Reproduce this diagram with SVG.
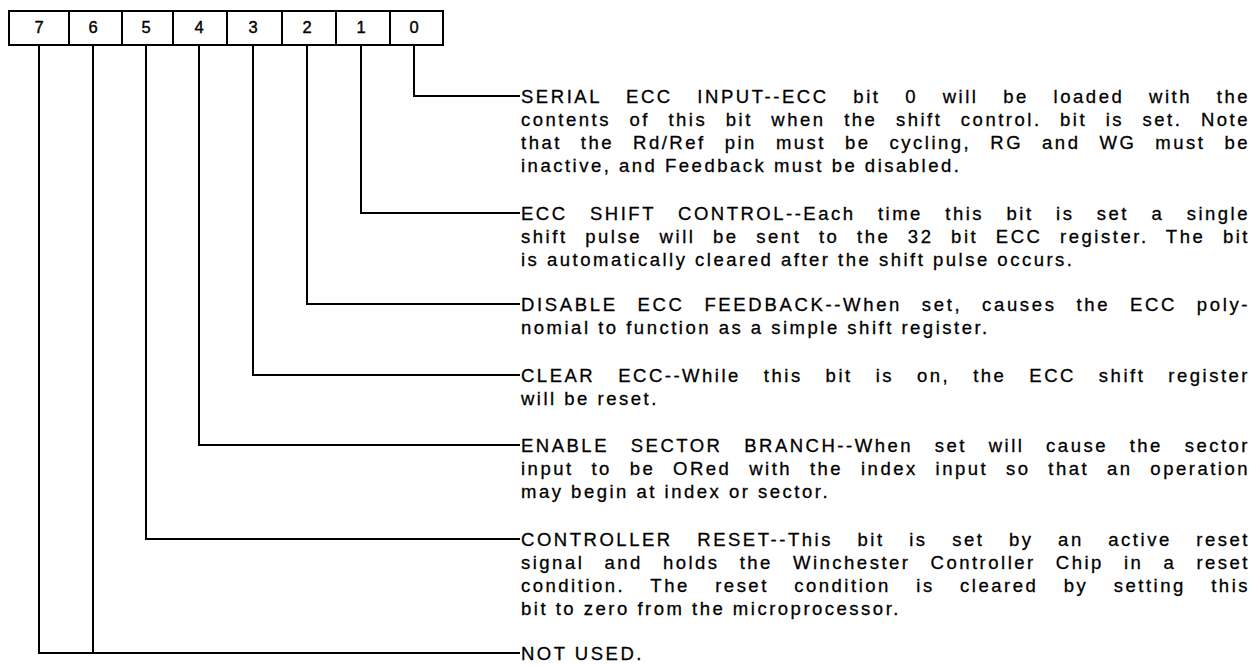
<svg xmlns="http://www.w3.org/2000/svg" width="1254" height="665" viewBox="0 0 1254 665">
<style>
.cell{fill:#fff;stroke:#000;stroke-width:2}
.dig{font-family:"Liberation Sans",Arial,sans-serif;font-size:16.5px;text-anchor:middle;fill:#000;stroke:#000;stroke-width:0.4}
.t{font-family:"Liberation Sans",Arial,sans-serif;font-size:18.5px;letter-spacing:2.5px;fill:#000;stroke:#000;stroke-width:0.3}
.ln{fill:none;stroke:#000;stroke-width:2}
</style>
<rect width="1254" height="665" fill="#fff"/>
<g id="register">
<g id="bit7"><rect class="cell" x="9" y="11" width="60" height="34"/><text class="dig" x="39" y="33">7</text></g>
<g id="bit6"><rect class="cell" x="69" y="11" width="53" height="34"/><text class="dig" x="93" y="33">6</text></g>
<g id="bit5"><rect class="cell" x="122" y="11" width="51" height="34"/><text class="dig" x="146" y="33">5</text></g>
<g id="bit4"><rect class="cell" x="173" y="11" width="54" height="34"/><text class="dig" x="199" y="33">4</text></g>
<g id="bit3"><rect class="cell" x="227" y="11" width="55" height="34"/><text class="dig" x="253" y="33">3</text></g>
<g id="bit2"><rect class="cell" x="282" y="11" width="54" height="34"/><text class="dig" x="307" y="33">2</text></g>
<g id="bit1"><rect class="cell" x="336" y="11" width="54" height="34"/><text class="dig" x="361" y="33">1</text></g>
<g id="bit0"><rect class="cell" x="390" y="11" width="53" height="34"/><text class="dig" x="414" y="33">0</text></g>
</g>
<g id="connectors">
<path class="ln" d="M414 45V96H520"/>
<path class="ln" d="M361 45V213H520"/>
<path class="ln" d="M307 45V304H520"/>
<path class="ln" d="M253 45V375H520"/>
<path class="ln" d="M199 45V445H520"/>
<path class="ln" d="M146 45V539H520"/>
<path class="ln" d="M39 45V653H520"/>
<path class="ln" d="M93 45V653"/>
</g>
<g id="desc0">
<text class="t" x="521" y="102.5" word-spacing="17" textLength="729" lengthAdjust="spacing">SERIAL ECC INPUT--ECC bit 0 will be loaded with the</text>
<text class="t" x="521" y="125.7" word-spacing="10.9" textLength="729" lengthAdjust="spacing">contents of this bit when the shift control. bit is set. Note</text>
<text class="t" x="521" y="148.9" word-spacing="11.4" textLength="729" lengthAdjust="spacing">that the Rd/Ref pin must be cycling, RG and WG must be</text>
<text class="t" x="521" y="172.1">inactive, and Feedback must be disabled.</text>
</g>
<g id="desc1">
<text class="t" x="521" y="219.5" word-spacing="14.8" textLength="729" lengthAdjust="spacing">ECC SHIFT CONTROL--Each time this bit is set a single</text>
<text class="t" x="521" y="242.7" word-spacing="9.9" textLength="729" lengthAdjust="spacing">shift pulse will be sent to the 32 bit ECC register. The bit</text>
<text class="t" x="521" y="265.9">is automatically cleared after the shift pulse occurs.</text>
</g>
<g id="desc2">
<text class="t" x="521" y="310.5" word-spacing="12" textLength="729" lengthAdjust="spacing">DISABLE ECC FEEDBACK--When set, causes the ECC poly-</text>
<text class="t" x="521" y="333.7">nomial to function as a simple shift register.</text>
</g>
<g id="desc3">
<text class="t" x="521" y="381.5" word-spacing="15.3" textLength="729" lengthAdjust="spacing">CLEAR ECC--While this bit is on, the ECC shift register</text>
<text class="t" x="521" y="404.7">will be reset.</text>
</g>
<g id="desc4">
<text class="t" x="521" y="451.5" word-spacing="14.1" textLength="729" lengthAdjust="spacing">ENABLE SECTOR BRANCH--When set will cause the sector</text>
<text class="t" x="521" y="474.7" word-spacing="10.2" textLength="729" lengthAdjust="spacing">input to be ORed with the index input so that an operation</text>
<text class="t" x="521" y="497.9">may begin at index or sector.</text>
</g>
<g id="desc5">
<text class="t" x="521" y="545.5" word-spacing="16.9" textLength="729" lengthAdjust="spacing">CONTROLLER RESET--This bit is set by an active reset</text>
<text class="t" x="521" y="568.7" word-spacing="12.5" textLength="729" lengthAdjust="spacing">signal and holds the Winchester Controller Chip in a reset</text>
<text class="t" x="521" y="591.9" word-spacing="17.8" textLength="729" lengthAdjust="spacing">condition. The reset condition is cleared by setting this</text>
<text class="t" x="521" y="615.1">bit to zero from the microprocessor.</text>
</g>
<g id="desc67">
<text class="t" x="521" y="659.5">NOT USED.</text>
</g>
</svg>
